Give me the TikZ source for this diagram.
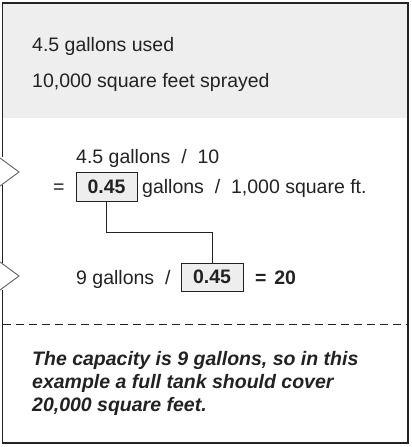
\documentclass[tikz,border=0pt]{standalone}
\usepackage{fontspec}
\setmainfont{Liberation Sans}
\definecolor{ink}{HTML}{222222}
\definecolor{panel}{HTML}{EEEEEE}
\definecolor{chevc}{HTML}{606060}
\begin{document}
\begin{tikzpicture}[x=1pt,y=-1pt,
  font=\fontsize{19.5}{23.3}\selectfont,
  txt/.style={anchor=base west, inner sep=0pt, text=ink},
  valbox/.style={draw=ink, fill=panel, line width=1pt, inner sep=0pt,
    minimum width=61pt, minimum height=29pt, text=ink,
    font=\fontsize{19.5}{23.3}\selectfont\bfseries},
  frameline/.style={draw=ink, line width=1.5pt},
  chevline/.style={draw=chevc, line width=0.9pt, line join=miter},
  link/.style={draw=ink, line width=1pt}]
\useasboundingbox (0,0) rectangle (412,447);
% grey header panel
\fill[panel] (2.7,3) rectangle (408,118);
% outer frame with gaps for the chevrons
\draw[frameline] (2.7,157) -- (2.7,3) -- (408,3) -- (408,443) -- (2.7,443) -- (2.7,290);
\draw[frameline] (2.7,185) -- (2.7,263);
% chevrons
\draw[chevline] (0,158) -- (19,172) -- (0,186);
\draw[chevline] (0,262) -- (19,276) -- (0,290);
% dashed separator
\draw[draw=ink, line width=1pt, dash pattern=on 8pt off 5pt] (2.7,324) -- (408,324);
% header texts
\node[txt] (used) at (32,51) {4.5 gallons used};
\node[txt] (area) at (32,87) {10,000 square feet sprayed};
% calculation
\node[txt] (row1) at (76,163) {4.5 gallons\ \ /\ \ 10};
\node[txt] (eq1) at (53,193) {=};
\node[valbox] (b1) at (106.5,186.5) {0.45};
\node[txt] (row2) at (142,193) {gallons\ \ /\ \ 1,000 square ft.};
\node[txt] (row3) at (76,284) {9 gallons\ \ /};
\node[valbox, minimum width=62pt, minimum height=28pt] (b2) at (212,277) {0.45};
\node[txt, font=\fontsize{19.5}{23.3}\selectfont\bfseries] (res) at (255,284) {=\hspace{0.4em}20};
\coordinate (m1) at (106.5,232);
\draw[link] (b1.south) -- (b1.south |- m1) -- (b2.north |- m1) -- (b2.north);
% conclusion (base anchor sits on the last line)
\node[txt, align=left, font=\fontsize{19.5}{23.3}\selectfont\bfseries\itshape] (concl) at (32,411.6)
  {The capacity is 9 gallons, so in this\\example a full tank should cover\\20,000 square feet.};
\end{tikzpicture}
\end{document}
